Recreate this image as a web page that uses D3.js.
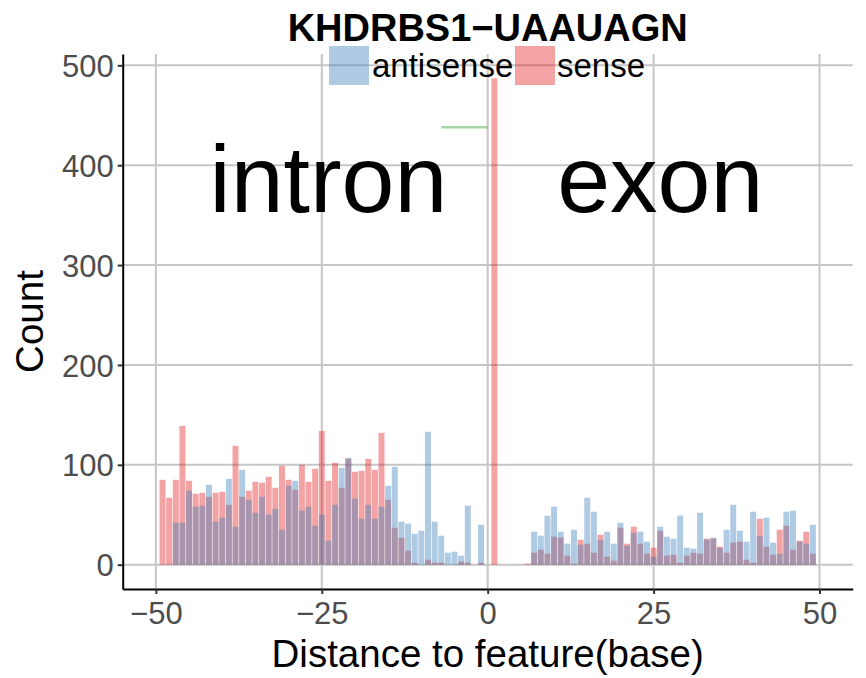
<!DOCTYPE html>
<html>
<head>
<meta charset="utf-8">
<script src="https://cdn.jsdelivr.net/npm/d3@7"></script>
<style>
  body { margin: 0; background: #fff; }
  text { font-family: "Liberation Sans", Arial, sans-serif; }
</style>
</head>
<body>
<div id="chart"></div>
<script>
// positions relative to the feature (bases)
var positions = d3.range(-49, 50);

// sense counts, -49 .. 49
var senseCounts = [85, 67, 85, 139, 84, 71, 72, 68, 72, 73,
  60, 119, 68, 74, 83, 82, 88, 77, 99, 85,
  75, 100, 83, 96, 134, 84, 102, 77, 106, 93,
  94, 106, 95, 132, 65, 37, 27, 14, 2, 0,
  5, 2, 2, 0, 0, 3, 2, 0, 2, 0,
  487, 0, 0, 0, 0, 1, 12, 15, 11, 28,
  27, 9, 1, 25, 21, 12, 30, 8, 4, 37,
  21, 38, 21, 11, 17, 34, 9, 10, 2, 9,
  12, 11, 26, 26, 18, 12, 22, 23, 5, 2,
  46, 18, 10, 35, 39, 15, 24, 33, 11];

// antisense counts, -49 .. 49
var antisenseCounts = [0, 0, 42, 42, 74, 58, 59, 80, 43, 47,
  86, 38, 95, 65, 52, 68, 50, 56, 35, 79,
  84, 54, 58, 39, 50, 24, 60, 97, 107, 66,
  46, 60, 46, 58, 79, 98, 43, 41, 31, 34,
  133, 43, 29, 12, 13, 9, 59, 0, 40, 0,
  0, 0, 0, 0, 0, 0, 33, 29, 49, 58,
  33, 21, 35, 20, 67, 53, 25, 33, 21, 42,
  19, 32, 33, 23, 8, 38, 28, 26, 49, 17,
  16, 52, 25, 27, 17, 35, 60, 34, 23, 53,
  29, 47, 22, 11, 53, 54, 23, 21, 40];

var seriesNames = ["antisense", "sense"];
var xTicks = [-50, -25, 0, 25, 50];
var yTicks = [0, 100, 200, 300, 400, 500];

// region labels and the small green segment
var regionLabels = [{ text: "intron", x: -24, y: 353 }, { text: "exon", x: 26, y: 353 }];
var segment = { x1: -7, x2: 0, y: 438 };

var svgWidth = 866;
var svgHeight = 678;

var margin = { top: 54, right: 13.3, bottom: 89, left: 122.7 };
var width = svgWidth - margin.left - margin.right;
var height = svgHeight - margin.top - margin.bottom;

var svg = d3.select("#chart")
  .append("svg")
  .attr("width", svgWidth)
  .attr("height", svgHeight);

var chartGroup = svg.append("g")
  .attr("transform", `translate(${margin.left}, ${margin.top})`);

var xScale = d3.scaleLinear().domain([-55, 55]).range([0, width]);
var yScale = d3.scaleLinear().domain([-24.35, 511.35]).range([height, 0]);

var colors = { antisense: "#377eb8", sense: "#e41a1c" };
var barW = xScale(0.9) - xScale(0);

// gridlines
chartGroup.selectAll(".gx").data(xTicks).enter().append("line")
  .attr("x1", d => xScale(d)).attr("x2", d => xScale(d))
  .attr("y1", 0).attr("y2", height)
  .attr("stroke", "#c6c6c6").attr("stroke-width", 2);

chartGroup.selectAll(".gy").data(yTicks).enter().append("line")
  .attr("x1", 0).attr("x2", width)
  .attr("y1", d => yScale(d)).attr("y2", d => yScale(d))
  .attr("stroke", "#c6c6c6").attr("stroke-width", 2);

// bars: sense first, antisense over it
function drawBars(values, color) {
  chartGroup.append("g").selectAll("rect")
    .data(positions.map((p, i) => ({ p: p, v: values[i] })).filter(d => d.v > 0))
    .enter()
    .append("rect")
    .attr("x", d => xScale(d.p) - barW / 2)
    .attr("width", barW)
    .attr("y", d => yScale(d.v))
    .attr("height", d => yScale(0) - yScale(d.v))
    .attr("fill", color)
    .attr("fill-opacity", 0.4);
}
drawBars(senseCounts, colors.sense);
drawBars(antisenseCounts, colors.antisense);

// green segment
chartGroup.append("line")
  .attr("x1", xScale(segment.x1)).attr("x2", xScale(segment.x2))
  .attr("y1", yScale(segment.y)).attr("y2", yScale(segment.y))
  .attr("stroke", "#4daf4a").attr("stroke-opacity", 0.5).attr("stroke-width", 2.4);

// intron / exon labels
chartGroup.selectAll(".region").data(regionLabels).enter().append("text")
  .attr("x", d => xScale(d.x))
  .attr("y", d => yScale(d.y))
  .attr("text-anchor", "middle")
  .style("font-size", "95px")
  .attr("fill", "#000")
  .text(d => d.text);

// axes
var bottomAxis = d3.axisBottom(xScale).tickValues(xTicks).tickSizeInner(5).tickSizeOuter(0).tickPadding(4)
  .tickFormat(d => d < 0 ? "\u2212" + Math.abs(d) : d);
var leftAxis = d3.axisLeft(yScale).tickValues(yTicks).tickSizeInner(5).tickSizeOuter(0).tickPadding(4);

var xAxisG = chartGroup.append("g")
  .attr("transform", `translate(0, ${height})`)
  .call(bottomAxis);
var yAxisG = chartGroup.append("g").call(leftAxis);

[xAxisG, yAxisG].forEach(function(g) {
  g.select(".domain").attr("stroke", "#000").attr("stroke-width", 2);
  g.selectAll(".tick line").attr("stroke", "#333").attr("stroke-width", 2);
  g.selectAll(".tick text")
    .attr("fill", "#4d4d4d")
    .style("font-size", "31px")
    .style("font-family", "'Liberation Sans', Arial, sans-serif");
});
xAxisG.selectAll(".tick text").attr("dy", "0.85em");
yAxisG.selectAll(".tick text").attr("dy", "0.36em");

// axis titles
svg.append("text")
  .attr("x", margin.left + xScale(0))
  .attr("y", 667)
  .attr("text-anchor", "middle")
  .style("font-size", "38.5px")
  .text("Distance to feature(base)");

svg.append("text")
  .attr("transform", `translate(43, ${margin.top + height / 2}) rotate(-90)`)
  .attr("text-anchor", "middle")
  .style("font-size", "38.5px")
  .text("Count");

// title
svg.append("text")
  .attr("x", margin.left + xScale(0))
  .attr("y", 41)
  .attr("text-anchor", "middle")
  .style("font-size", "38px")
  .style("font-weight", "bold")
  .text("KHDRBS1\u2212UAAUAGN");

// legend
var legendItems = [
  { name: seriesNames[0], key: 329, label: 372 },
  { name: seriesNames[1], key: 515, label: 557 }
];
var legend = svg.append("g");
legend.selectAll("rect").data(legendItems).enter().append("rect")
  .attr("x", d => d.key).attr("y", 46)
  .attr("width", 40).attr("height", 39)
  .attr("fill", d => colors[d.name]).attr("fill-opacity", 0.4);
legend.selectAll("text").data(legendItems).enter().append("text")
  .attr("x", d => d.label).attr("y", 77)
  .style("font-size", "33px")
  .text(d => d.name);
</script>
</body>
</html>
